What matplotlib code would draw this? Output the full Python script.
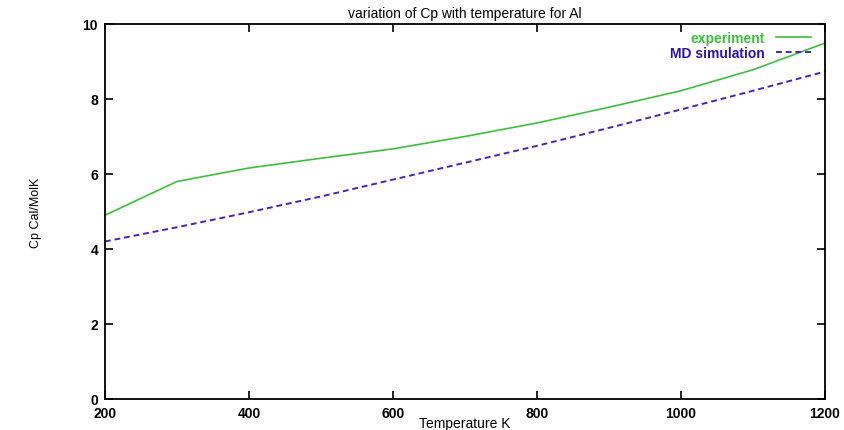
import matplotlib
matplotlib.use("Agg")
import matplotlib.pyplot as plt

plt.rcParams['font.family'] = ['Liberation Sans', 'DejaVu Sans']

temps = [200, 300, 400, 500, 600, 700, 800, 900, 1000, 1100, 1200]
cp_expt = [4.9, 5.8, 6.16, 6.42, 6.67, 7.0, 7.36, 7.78, 8.22, 8.78, 9.49]
cp_md = [4.2, 4.58, 4.98, 5.4, 5.85, 6.3, 6.75, 7.23, 7.72, 8.22, 8.73]

xticks = [200, 400, 600, 800, 1000, 1200]
yticks = [0, 2, 4, 6, 8, 10]

fig = plt.figure(figsize=(8.44, 4.31), dpi=100)
ax = fig.add_axes([0.1244, 0.072, 0.853, 0.870])

ax.plot(temps, cp_expt, '-', color='#3cbf3c', lw=1.2, label='experiment')
ax.plot(temps, cp_md, '--', color='#4a22b8', lw=1.4, dashes=(3, 2), label='MD simulation')

ax.set_xlim(200, 1200)
ax.set_ylim(0, 10)
ax.set_xticks(xticks)
ax.set_yticks(yticks)
ax.tick_params(direction='in', top=True, right=True, length=6, width=1.2,
               labelsize=10, pad=5)
for lbl in ax.get_xticklabels() + ax.get_yticklabels():
    lbl.set_fontweight('bold')
for s in ax.spines.values():
    s.set_linewidth(1.3)

ax.set_title("variation of Cp with temperature for Al", fontsize=10, pad=5)
ax.set_xlabel("Temperature K", fontsize=10)
ax.xaxis.set_label_coords(0.5, -0.045)
ax.set_ylabel("Cp Cal/MolK", fontsize=9)
ax.yaxis.set_label_coords(-0.087, 0.5)

leg = ax.legend(loc='upper right', frameon=False, markerfirst=False,
                fontsize=10, handlelength=2.5, borderaxespad=0.1,
                bbox_to_anchor=(0.99, 1.0),
                labelspacing=0.05, handletextpad=0.8)
for txt, col in zip(leg.get_texts(), ['#3cbf3c', '#2a12b0']):
    txt.set_color(col)
    txt.set_fontweight('bold')

fig.savefig("out.png", dpi=100)
